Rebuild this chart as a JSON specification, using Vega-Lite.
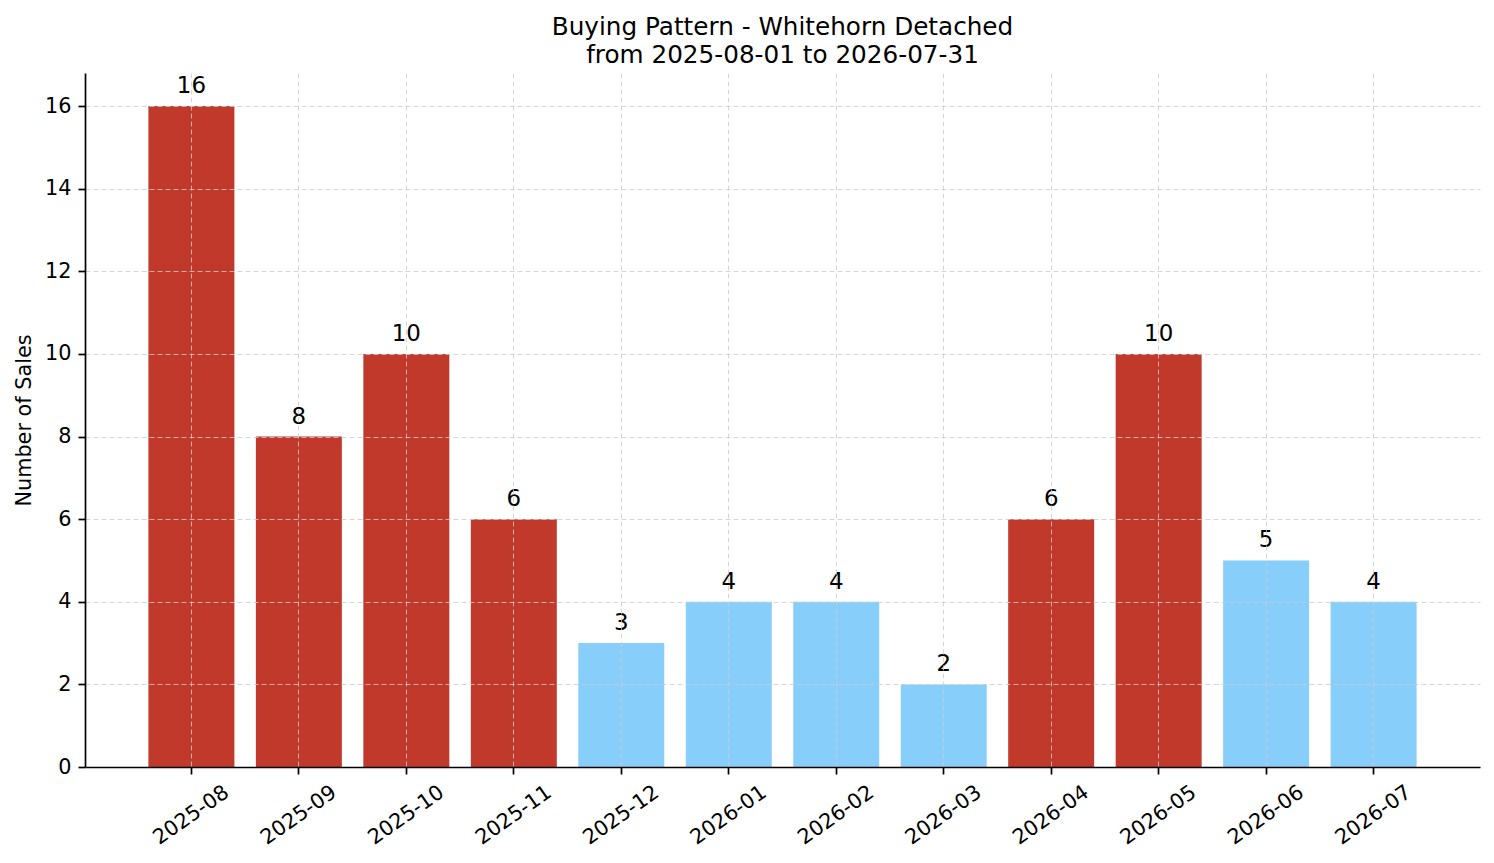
{
  "$schema": "https://vega.github.io/schema/vega-lite/v6.json",
  "autosize": "none",
  "padding": {"left": 85, "top": 73, "right": 14, "bottom": 96},
  "width": 1395,
  "height": 694,
  "background": "white",
  "title": {
    "text": ["Buying Pattern - Whitehorn Detached", "from 2025-08-01 to 2026-07-31"],
    "font": "DejaVu Sans",
    "fontSize": 24.7,
    "fontWeight": "normal",
    "color": "black",
    "anchor": "middle",
    "baseline": "alphabetic",
    "lineHeight": 28,
    "offset": -15
  },
  "config": {
    "view": {"stroke": null},
    "font": "DejaVu Sans"
  },
  "data": {
    "values": [
      {"month": "2025-08", "sales": 16},
      {"month": "2025-09", "sales": 8},
      {"month": "2025-10", "sales": 10},
      {"month": "2025-11", "sales": 6},
      {"month": "2025-12", "sales": 3},
      {"month": "2026-01", "sales": 4},
      {"month": "2026-02", "sales": 4},
      {"month": "2026-03", "sales": 2},
      {"month": "2026-04", "sales": 6},
      {"month": "2026-05", "sales": 10},
      {"month": "2026-06", "sales": 5},
      {"month": "2026-07", "sales": 4}
    ]
  },
  "encoding": {
    "x": {
      "field": "month",
      "type": "ordinal",
      "sort": null,
      "title": null,
      "scale": {"paddingInner": 0.2, "paddingOuter": 0.59},
      "axis": {
        "zindex": 1,
        "bandPosition": 0.5,
        "grid": true,
        "gridColor": "#cccccc",
        "gridDash": [5, 3],
        "gridWidth": 0.8,
        "domainColor": "black",
        "domainWidth": 1.7,
        "tickColor": "black",
        "tickWidth": 1.7,
        "tickSize": 7,
        "labelAngle": -35,
        "labelAlign": "center",
        "labelBaseline": "middle",
        "labelPadding": 41,
        "labelFontSize": 20.8,
        "labelColor": "black",
        "labelFont": "DejaVu Sans"
      }
    },
    "y": {
      "field": "sales",
      "type": "quantitative",
      "title": "Number of Sales",
      "scale": {"domain": [0, 16.8], "nice": false},
      "axis": {
        "zindex": 1,
        "values": [0, 2, 4, 6, 8, 10, 12, 14, 16],
        "grid": true,
        "gridColor": "#cccccc",
        "gridDash": [5, 3],
        "gridWidth": 0.8,
        "domainColor": "black",
        "domainWidth": 1.7,
        "tickColor": "black",
        "tickWidth": 1.7,
        "tickSize": 7,
        "labelPadding": 7,
        "labelFontSize": 20.8,
        "labelColor": "black",
        "labelFont": "DejaVu Sans",
        "titleFont": "DejaVu Sans",
        "titleFontSize": 20.8,
        "titleFontWeight": "normal",
        "titleColor": "black",
        "titlePadding": 10
      }
    }
  },
  "layer": [
    {
      "mark": {"type": "bar"},
      "encoding": {
        "color": {
          "condition": {"test": "datum.sales >= 6", "value": "#c0392b"},
          "value": "#87cefa"
        }
      }
    },
    {
      "mark": {
        "type": "text",
        "baseline": "alphabetic",
        "align": "center",
        "dy": -13,
        "fontSize": 22.9,
        "font": "DejaVu Sans",
        "color": "black"
      },
      "encoding": {
        "text": {"field": "sales", "type": "quantitative"}
      }
    }
  ]
}
